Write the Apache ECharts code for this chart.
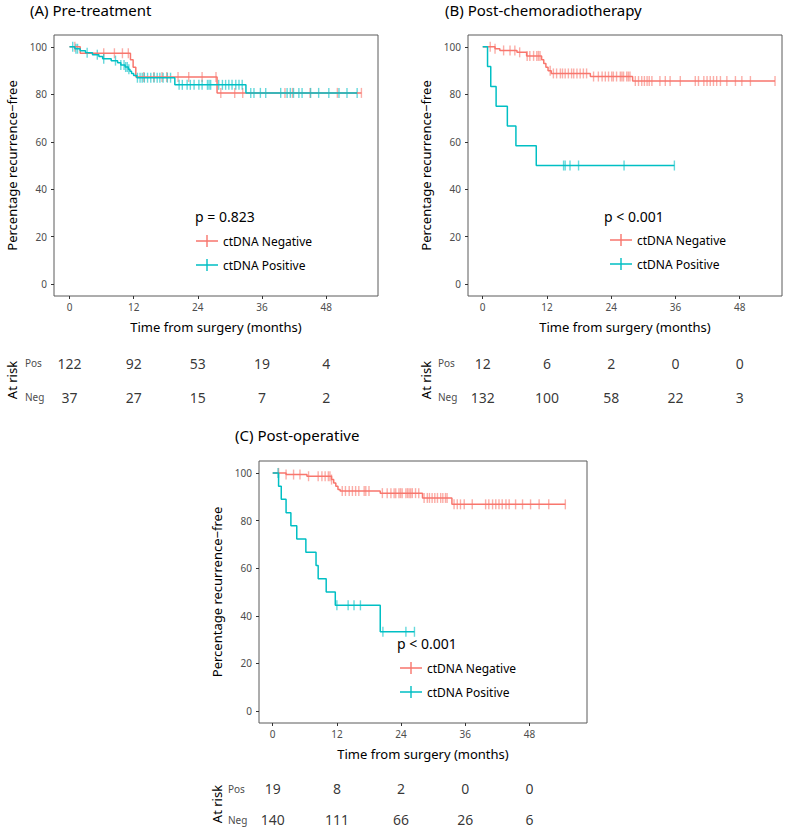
<!DOCTYPE html>
<html>
<head>
<meta charset="utf-8">
<script src="https://cdn.jsdelivr.net/npm/echarts@6/dist/echarts.min.js"></script>
<style>
  html, body { margin: 0; padding: 0; background: #fff; }
  #main { width: 800px; height: 835px; }
</style>
</head>
<body>
<div id="main"></div>
<script>
// shared axis ticks
const riskTimes = [0, 12, 24, 36, 48];
const yTicks = [0, 20, 40, 60, 80, 100];
const riskRows = ['Neg', 'Pos'];

// (A) Pre-treatment
const aNegTime = [0, 2.0, 11.4, 11.9, 12.4, 27.6, 54.6];
const aNegSurv = [100, 97.3, 94.6, 91.4, 87.3, 80.6, 80.6];
const aNegCens = [1.0, 6.4, 8.4, 9.9, 11.0, 13.9, 15.8, 17.3, 18.2, 20.3, 22.3, 24.8, 27.4,
  28.3, 30.9, 32.4, 40.3, 41.7, 45.0, 50.1, 54.6];
const aPosTime = [0, 1.0, 2.0, 3.0, 4.3, 5.5, 6.2, 7.8, 9.0, 9.6, 10.4, 11.0, 11.3, 11.6, 12.0, 12.6, 19.7, 33.0, 53.8];
const aPosSurv = [100, 99.2, 98.4, 97.5, 96.7, 95.9, 95.0, 94.2, 93.3, 92.4, 91.5, 90.6, 89.7, 88.8, 87.9, 87.0, 84.0, 80.6, 80.6];
const aPosCens = [0.6, 1.2, 1.5, 3.3, 5.2, 6.4, 8.6, 9.6, 10.2, 10.5, 10.8, 11.1,
  12.7, 13.2, 13.6, 14.0, 14.6, 15.2, 15.8, 16.4, 16.9, 17.5, 18.3, 18.9,
  20.5, 21.1, 22.0, 22.6, 23.3, 24.2, 24.8, 25.8, 26.1, 26.4, 27.9, 28.6, 29.2, 29.8, 30.4, 31.1, 31.7, 32.3,
  33.9, 34.5, 35.7, 36.7, 39.5, 40.7, 41.3, 41.9, 42.9, 43.5, 45.1, 46.6, 48.5, 50.4, 51.9, 53.8];
const aRiskPos = [122, 92, 53, 19, 4];
const aRiskNeg = [37, 27, 15, 7, 2];

// (B) Post-chemoradiotherapy
const bNegTime = [0, 2.3, 3.2, 6.4, 8.2, 11.0, 11.4, 11.8, 12.2, 12.8, 20.1, 28.0, 54.6];
const bNegSurv = [100, 99.2, 98.5, 97.7, 96.2, 94.6, 93.0, 91.4, 89.9, 88.8, 87.5, 85.6, 85.6];
const bNegCens = [1.4, 2.3, 3.9, 5.1, 6.0, 6.9, 8.3, 8.8, 9.5, 10.1, 10.4, 10.7,
  12.6, 13.2, 13.8, 14.5, 14.9, 15.4, 16.0, 16.6, 17.0, 17.6, 18.2, 18.8, 19.4,
  20.7, 21.6, 22.3, 22.9, 23.5, 24.1, 24.4, 25.0, 25.7, 26.0, 26.3, 26.9, 27.2, 27.5,
  28.5, 29.1, 29.7, 30.2, 30.7, 31.1, 31.6, 33.1, 34.1, 35.0, 36.9, 39.7, 40.3, 41.3, 41.9,
  42.5, 43.1, 43.7, 44.4, 45.6, 47.2, 48.4, 50.0, 54.6];
const bPosTime = [0, 0.9, 1.5, 2.5, 4.6, 6.2, 10.0, 35.8];
const bPosSurv = [100, 91.7, 83.3, 75.0, 66.7, 58.3, 50.0, 50.0];
const bPosCens = [15.1, 15.4, 16.3, 17.9, 26.4, 35.8];
const bRiskPos = [12, 6, 2, 0, 0];
const bRiskNeg = [132, 100, 58, 22, 3];

// (C) Post-operative
const cNegTime = [0, 2.5, 6.4, 11.0, 11.4, 11.8, 12.2, 12.6, 20.1, 28.0, 33.5, 54.7];
const cNegSurv = [100, 99.3, 98.6, 97.2, 95.8, 94.4, 93.0, 92.4, 91.5, 89.5, 86.8, 86.8];
const cNegCens = [1.1, 2.5, 3.9, 5.1, 6.7, 8.5, 9.2, 9.8, 10.4, 10.7, 11.0,
  13.0, 13.6, 14.3, 14.9, 15.5, 16.1, 17.1, 17.4, 18.0,
  20.5, 21.4, 22.1, 22.7, 23.0, 23.6, 23.9, 24.2, 24.9, 25.2, 25.5, 25.8, 26.1, 26.7, 27.3,
  28.3, 28.9, 29.3, 29.8, 30.3, 30.8, 31.4, 31.8, 32.3, 32.6,
  33.9, 34.5, 35.1, 35.8, 37.3, 39.8, 40.4, 41.1, 41.7, 42.3, 42.9, 43.6, 44.2, 45.4, 46.7,
  48.2, 49.8, 51.6, 54.7];
const cPosTime = [0, 1.1, 1.6, 2.5, 3.4, 4.5, 6.2, 8.1, 8.5, 10.0, 11.7, 20.1, 26.5];
const cPosSurv = [100, 94.4, 88.9, 83.3, 77.8, 72.2, 66.7, 61.1, 55.6, 50.0, 44.4, 33.3, 33.3];
const cPosCens = [1.0, 12.0, 14.1, 15.2, 16.4, 20.6, 24.9, 26.5];
const cRiskPos = [19, 8, 2, 0, 0];
const cRiskNeg = [140, 111, 66, 26, 6];

const titles = ['(A) Pre-treatment', '(B) Post-chemoradiotherapy', '(C) Post-operative'];
const pTexts = ['p = 0.823', 'p < 0.001', 'p < 0.001'];

const RED = '#F8766D', TEAL = '#00BFC4';
const FONT = 'Noto Sans';

const panels = [
  { neg: [aNegTime, aNegSurv, aNegCens], pos: [aPosTime, aPosSurv, aPosCens], riskPos: aRiskPos, riskNeg: aRiskNeg },
  { neg: [bNegTime, bNegSurv, bNegCens], pos: [bPosTime, bPosSurv, bPosCens], riskPos: bRiskPos, riskNeg: bRiskNeg },
  { neg: [cNegTime, cNegSurv, cNegCens], pos: [cPosTime, cPosSurv, cPosCens], riskPos: cRiskPos, riskNeg: cRiskNeg }
];

// where things sit on the page
const layout = [
  { grid: { left: 54, top: 35, width: 324, height: 261 }, xr: [-2.9, 57.7],
    risk: { top: 346, height: 68 }, rowLabelX: 25, title: [30, 2], pval: [195, 209], legend: [196, 235] },
  { grid: { left: 468, top: 35, width: 314, height: 261 }, xr: [-2.75, 55.9],
    risk: { top: 346, height: 68 }, rowLabelX: 438, title: [445, 2], pval: [604, 209], legend: [610, 234] },
  { grid: { left: 259, top: 461, width: 328, height: 262 }, xr: [-2.56, 58.75],
    risk: { top: 773, height: 67 }, rowLabelX: 228, title: [235, 427], pval: [397, 636], legend: [400, 662] }
];

function survAt(times, surv, t) {
  let v = surv[0];
  for (let i = 0; i < times.length; i++) {
    if (times[i] <= t) v = surv[i];
  }
  return v;
}

const legendIcon = 'path://M0,5.3 L22,5.3 L22,6.7 L0,6.7 Z M10.3,0 L11.7,0 L11.7,12 L10.3,12 Z';

let grids = [], xAxes = [], yAxes = [], series = [], titleList = [], legends = [];

layout.forEach((L, i) => {
  const P = panels[i];
  // plot grid
  grids.push(Object.assign({ show: true, borderColor: '#5a5a5a', borderWidth: 1, backgroundColor: '#fff' }, L.grid));
  const gi = grids.length - 1;
  xAxes.push({
    gridIndex: gi, type: 'value', min: L.xr[0], max: L.xr[1],
    name: 'Time from surgery (months)', nameLocation: 'middle', nameGap: 24,
    nameTextStyle: { fontSize: 13, color: '#000', fontFamily: FONT },
    axisLine: { show: false, onZero: false }, splitLine: { show: false },
    axisTick: { show: true, length: 3, customValues: riskTimes, lineStyle: { color: '#333' } },
    axisLabel: { customValues: riskTimes, fontSize: 10, color: '#4d4d4d', margin: 6, fontFamily: FONT }
  });
  yAxes.push({
    gridIndex: gi, type: 'value', min: -5, max: 105,
    name: 'Percentage recurrence\u2212free', nameLocation: 'middle', nameGap: 36, nameRotate: 90,
    nameTextStyle: { fontSize: 13, color: '#000', fontFamily: FONT },
    axisLine: { show: false, onZero: false }, splitLine: { show: false },
    axisTick: { show: true, length: 3, customValues: yTicks, lineStyle: { color: '#333' } },
    axisLabel: { customValues: yTicks, fontSize: 10, color: '#4d4d4d', margin: 7, fontFamily: FONT }
  });
  [[P.neg, RED, 'ctDNA Negative'], [P.pos, TEAL, 'ctDNA Positive']].forEach(([g, color, name]) => {
    const [times, surv, cens] = g;
    series.push({
      name: name, type: 'line', step: 'end', xAxisIndex: gi, yAxisIndex: gi,
      showSymbol: false, silent: true, animation: false,
      lineStyle: { color: color, width: 1.5 }, itemStyle: { color: color },
      data: times.map((t, k) => [t, surv[k]])
    });
    series.push({
      name: name + ' censored', type: 'scatter', xAxisIndex: gi, yAxisIndex: gi,
      symbol: 'rect', symbolSize: [1.4, 10], silent: true, animation: false,
      itemStyle: { color: color, opacity: 0.6 },
      data: cens.map(t => [t, survAt(times, surv, t)])
    });
  });

  // at-risk table grid
  grids.push({ left: L.grid.left, width: L.grid.width, top: L.risk.top, height: L.risk.height });
  const ri = grids.length - 1;
  xAxes.push({ gridIndex: ri, type: 'value', min: L.xr[0], max: L.xr[1], show: false });
  yAxes.push({
    gridIndex: ri, type: 'category', data: riskRows,
    name: 'At risk', nameLocation: 'middle', nameGap: 36, nameRotate: 90,
    nameTextStyle: { fontSize: 13, color: '#000', fontFamily: FONT },
    axisLine: { show: false, onZero: false }, axisTick: { show: false }, splitLine: { show: false },
    axisLabel: { align: 'left', margin: L.grid.left - L.rowLabelX, fontSize: 10, color: '#4d4d4d', fontFamily: FONT }
  });
  [['Pos', P.riskPos], ['Neg', P.riskNeg]].forEach(([row, counts]) => {
    series.push({
      type: 'scatter', xAxisIndex: ri, yAxisIndex: ri, symbolSize: 0, silent: true, animation: false,
      label: { show: true, position: 'inside', formatter: p => String(p.value[2]), fontSize: 14, color: '#000', fontFamily: FONT },
      data: riskTimes.map((t, k) => [t, row, counts[k]])
    });
  });

  titleList.push({ text: titles[i], left: L.title[0], top: L.title[1], padding: 0,
    textStyle: { fontSize: 15, fontWeight: 'normal', color: '#000', fontFamily: FONT } });
  titleList.push({ text: pTexts[i], left: L.pval[0], top: L.pval[1], padding: 0,
    textStyle: { fontSize: 14, fontWeight: 'normal', color: '#000', fontFamily: FONT } });
  legends.push({
    data: ['ctDNA Negative', 'ctDNA Positive'], orient: 'vertical',
    left: L.legend[0], top: L.legend[1], padding: 0, itemGap: 12,
    itemWidth: 22, itemHeight: 12, icon: legendIcon, selectedMode: false,
    textStyle: { fontSize: 12, color: '#000', fontFamily: FONT, lineHeight: 12 }
  });
});

const chart = echarts.init(document.getElementById('main'), null, { renderer: 'svg' });
chart.setOption({
  backgroundColor: '#fff',
  animation: false,
  textStyle: { fontFamily: FONT },
  title: titleList,
  legend: legends,
  grid: grids,
  xAxis: xAxes,
  yAxis: yAxes,
  series: series
});
</script>
</body>
</html>
